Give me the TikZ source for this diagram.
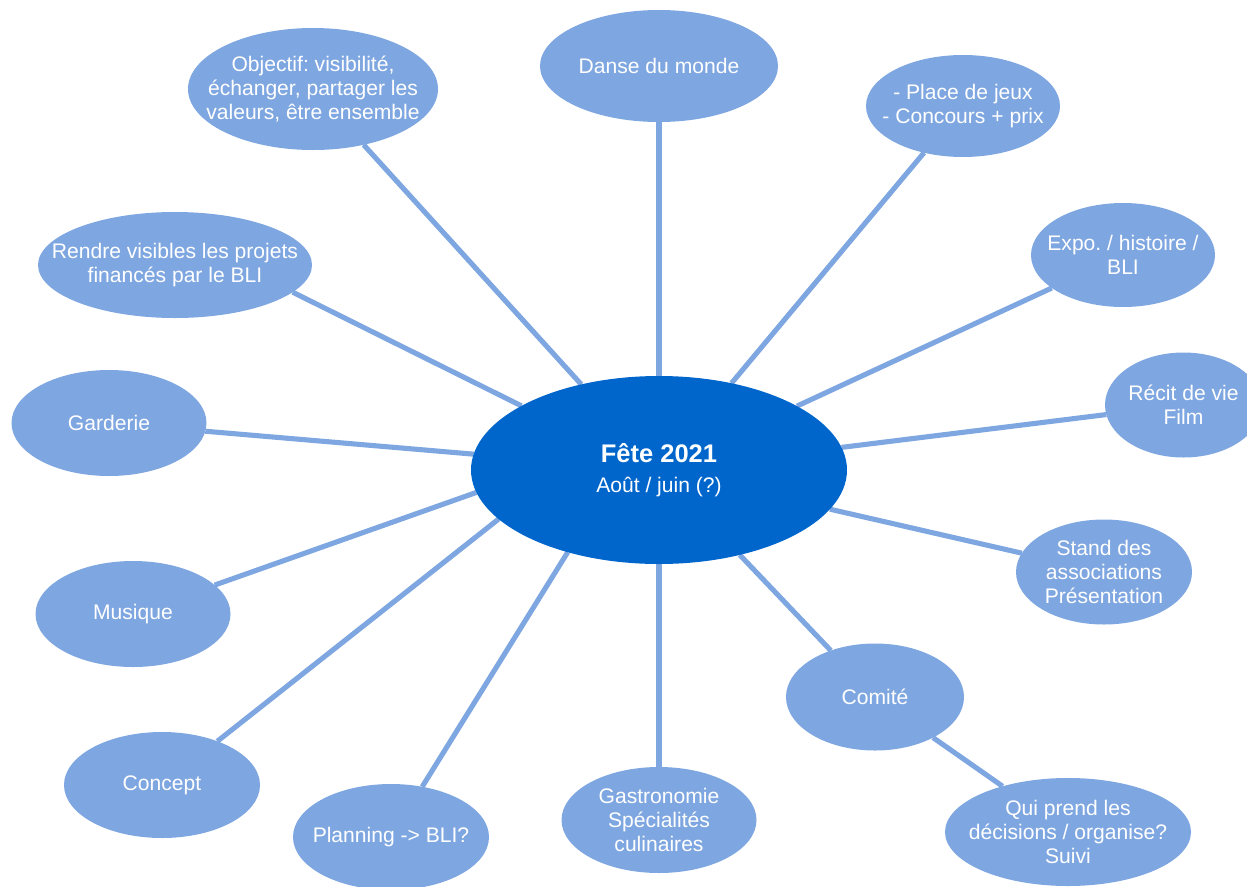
\documentclass[tikz,border=0pt]{standalone}
\usepackage{fontspec}
\setmainfont{Liberation Sans}
\usepackage{xcolor}
\usepackage{tikz}
\usetikzlibrary{positioning,shapes.geometric,backgrounds}

\definecolor{hubBlue}{HTML}{0066CC}
\definecolor{ideaBlue}{HTML}{7EA6E0}
\frenchspacing

\begin{document}
\begin{tikzpicture}[
  ideaNode/.style={ellipse, fill=ideaBlue, text=white, inner sep=-1cm,
                   outer sep=0pt, align=center,
                   font=\fontsize{12}{13.8}\selectfont,
                   minimum height=2.12cm},
  hubNode/.style={ellipse, fill=hubBlue, text=white, inner sep=-1cm,
                  outer sep=0pt, align=center,
                  font=\fontsize{12}{13.8}\selectfont,
                  minimum width=7.52cm, minimum height=3.76cm},
  spoke/.style={draw=ideaBlue, line width=2.9pt}
]
  \useasboundingbox (0,0) rectangle (24.94,-17.72);

  % centre
  \node[hubNode] (hub) at (13.18,-9.40)
    {{\fontsize{14.5}{17}\selectfont\bfseries Fête 2021}\\[3pt]Août / juin (?)};

  % top row
  \node[ideaNode, minimum width=5.0cm, minimum height=2.44cm] (objectif) at (6.26,-1.78)
    {Objectif: visibilité,\\échanger, partager les\\valeurs, être ensemble};
  \node[ideaNode, minimum width=4.76cm, minimum height=2.24cm] (danse) at (13.18,-1.32)
    {Danse du monde};
  \node[ideaNode, minimum width=3.88cm, minimum height=2.04cm] (jeux) at (19.26,-2.12)
    {- Place de jeux\\- Concours + prix};

  % left side
  \node[ideaNode, minimum width=5.48cm] (rendre) at (3.50,-5.30)
    {Rendre visibles les projets\\financés par le BLI};
  \node[ideaNode, minimum width=3.90cm] (garderie) at (2.18,-8.46) {Garderie};
  \node[ideaNode, minimum width=3.90cm] (musique) at (2.66,-12.28) {Musique};
  \node[ideaNode, minimum width=3.92cm] (concept) at (3.24,-15.70) {Concept};

  % right side
  \node[ideaNode, minimum width=3.68cm, minimum height=2.08cm] (expo) at (22.46,-5.10)
    {Expo. / histoire /\\BLI};
  \node[ideaNode, minimum width=3.14cm, minimum height=2.10cm] (recit) at (23.67,-8.10)
    {Récit de vie\\Film};
  \node[ideaNode, minimum width=3.52cm, minimum height=2.10cm] (stand) at (22.08,-11.44)
    {Stand des\\associations\\Présentation};
  \node[ideaNode, minimum width=3.56cm, minimum height=2.14cm] (comite) at (17.50,-13.94)
    {Comité};

  % bottom row
  \node[ideaNode, minimum width=3.92cm] (planning) at (7.82,-16.74)
    {Planning -> BLI?};
  \node[ideaNode, minimum width=3.90cm] (gastro) at (13.18,-16.40)
    {Gastronomie\\Spécialités\\culinaires};
  \node[ideaNode, minimum width=4.92cm, minimum height=2.16cm] (qui) at (21.36,-16.64)
    {Qui prend les\\décisions / organise?\\Suivi};

  \begin{scope}[on background layer]
    \draw[spoke] (hub) -- (objectif);
    \draw[spoke] (hub) -- (danse);
    \draw[spoke] (hub) -- (jeux);
    \draw[spoke] (hub.155) -- (rendre.-13);
    \draw[spoke] (hub) -- (garderie);
    \draw[spoke] (hub.-173) -- (musique);
    \draw[spoke] (hub.-163) -- (concept);
    \draw[spoke] (hub.-138) -- (planning);
    \draw[spoke] (hub) -- (gastro);
    \draw[spoke] (hub) -- (comite);
    \draw[spoke] (hub) -- (stand);
    \draw[spoke] (hub) -- (recit);
    \draw[spoke] (hub) -- (expo);
    \draw[spoke] (comite) -- (qui);
  \end{scope}
\end{tikzpicture}
\end{document}
